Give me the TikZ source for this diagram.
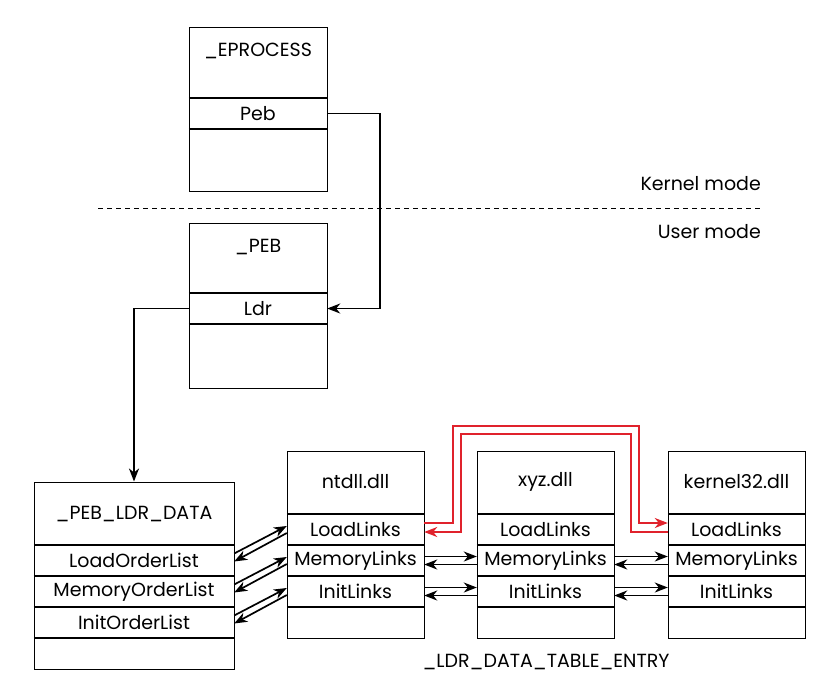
\documentclass[tikz,border=0pt]{standalone}
\usepackage{fontspec}
\setmainfont{Poppins}
\usetikzlibrary{arrows.meta}
\definecolor{linkred}{RGB}{224,34,44}
\tikzset{
  frame/.style={draw, line width=1pt, inner sep=0pt},
  rowline/.style={draw, line width=1.8pt, -},
  field/.style={inner sep=0pt, minimum height=31pt,
    append after command={(\tikzlastnode.north west) edge[rowline] (\tikzlastnode.north east)
      (\tikzlastnode.south west) edge[rowline] (\tikzlastnode.south east)}},
  lbl/.style={inner sep=0pt},
  link/.style={line width=1.7pt, -{Stealth[length=13pt,width=10pt,inset=4pt]}},
  redlink/.style={link, draw=linkred, line width=1.7pt}
}
\begin{document}
\begin{tikzpicture}[x=1pt, y=-1pt, font=\fontsize{19}{22}\selectfont]
  \useasboundingbox (0,0) rectangle (840,689);
  \node[frame, minimum width=138pt, minimum height=164pt] (eproc) at (258,109) {};
  \node[lbl] (eproctitle) at (258,51) {\_EPROCESS};
  \node[field, minimum width=138pt] (peb) at (258,113.5) {Peb};
  \node[frame, minimum width=138pt, minimum height=165pt] (pebbox) at (258,305.5) {};
  \node[lbl] (pebtitle) at (258,247) {\_PEB};
  \node[field, minimum width=138pt] (ldr) at (258,308.5) {Ldr};
  \coordinate (kleft) at (98,208);
  \coordinate (kright) at (760,208);
  \draw[dashed, line width=1pt, dash pattern=on 5pt off 4pt] (kleft) -- (kright);
  \node[lbl, anchor=east] (kmode) at (761,184) {Kernel mode};
  \node[lbl, anchor=east] (umode) at (761,232) {User mode};
  \node[frame, minimum width=200pt, minimum height=187pt] (ldrdata) at (134,575.5) {};
  \node[lbl] (ldrtitle) at (134,514) {\_PEB\_LDR\_DATA};
  \node[field, minimum width=200pt] (lol) at (134,560.5) {LoadOrderList};
  \node[field, minimum width=200pt] (mol) at (134,591.5) {MemoryOrderList};
  \node[field, minimum width=200pt] (iol) at (134,622.5) {InitOrderList};
  \foreach \dll/\x/\title in {nt/355.5/ntdll.dll, xyz/545.5/xyz.dll, k32/736.5/kernel32.dll} {
    \node[frame, minimum width=137pt, minimum height=187pt] (\dll box) at (\x,544.5) {};
    \node[lbl] (\dll title) at (\x,482) {\title};
    \node[field, minimum width=137pt] (\dll load) at (\x,529.5) {LoadLinks};
    \node[field, minimum width=137pt] (\dll mem) at (\x,560.5) {MemoryLinks};
    \node[field, minimum width=137pt] (\dll init) at (\x,591.5) {InitLinks};
  }
  \node[lbl] (entry) at (546,662) {\_LDR\_DATA\_TABLE\_ENTRY};
  \draw[link] (peb.east) -- ++(53,0) |- (ldr.east);
  \draw[link] (ldr.west) -| (ldrdata.north);
  \foreach \a/\b in {lol/ntload, mol/ntmem, iol/ntinit} {
    \draw[link] ([yshift=7pt]\a.east) -- ([yshift=3.5pt]\b.west);
    \draw[link] ([yshift=-3.5pt]\b.west) -- ([yshift=-1pt]\a.east);
  }
  \foreach \a/\b in {nt/xyz, xyz/k32} {
    \draw[link] ([yshift=4pt]\a mem.east) -- ([yshift=4pt]\b mem.west);
    \draw[link] ([yshift=-4pt]\b mem.west) -- ([yshift=-4pt]\a mem.east);
    \draw[link] ([yshift=4pt]\a init.east) -- ([yshift=4pt]\b init.west);
    \draw[link] ([yshift=-4pt]\b init.west) -- ([yshift=-4pt]\a init.east);
  }
  \draw[redlink] ([yshift=6.5pt]ntload.east) -- ++(29,0) -- ++(0,-97)
    -| ([xshift=-29pt,yshift=6.5pt]k32load.west) -- ([yshift=6.5pt]k32load.west);
  \draw[redlink] ([yshift=-2.5pt]k32load.west) -- ++(-37,0) -- ++(0,-98)
    -| ([xshift=37pt,yshift=-2.5pt]ntload.east) -- ([yshift=-2.5pt]ntload.east);
\end{tikzpicture}
\end{document}
